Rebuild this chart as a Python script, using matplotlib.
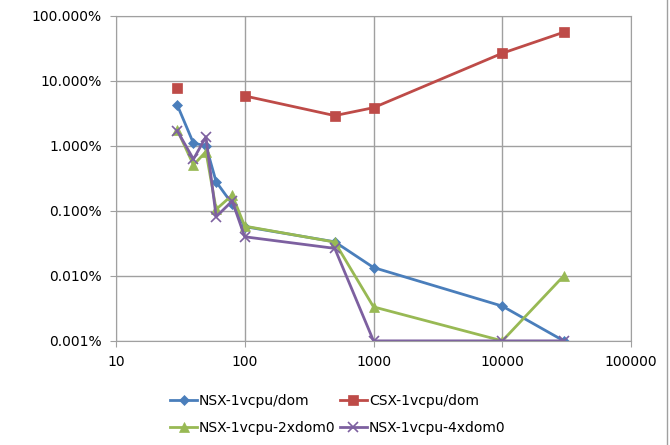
import numpy as np
import matplotlib.pyplot as plt
from matplotlib.ticker import FixedLocator, FuncFormatter, NullLocator
from matplotlib.lines import Line2D

# message counts (x) and loss rate in percent (y)
x = [30, 40, 50, 60, 80, 100, 500, 1000, 10000, 30000]

nsx_1vcpu = [4.18, 1.09, 1.0, 0.279, 0.127, 0.057, 0.0333, 0.0134, 0.00342, 0.001]
csx_1vcpu = [7.64, np.nan, np.nan, np.nan, np.nan, 5.82, 2.9, 3.84, 26.4, 55.5]
nsx_2xdom0 = [1.74, 0.505, 0.81, 0.105, 0.174, 0.058, 0.033, 0.00333, 0.001, 0.01]
nsx_4xdom0 = [1.68, 0.62, 1.37, 0.081, 0.141, 0.0398, 0.0264, 0.001, 0.001, 0.001]

labels = ["NSX-1vcpu/dom", "CSX-1vcpu/dom", "NSX-1vcpu-2xdom0", "NSX-1vcpu-4xdom0"]
colors = ["#4A7EBB", "#BE4B48", "#98B954", "#7D60A0"]
markers = ["D", "s", "^", "x"]
msizes = [5, 7, 7, 7]

fig = plt.figure(figsize=(6.7, 4.45), dpi=100)
ax = fig.add_axes([0.173, 0.234, 0.769, 0.731])

lines = []
for ys, lab, c, m, ms in zip([nsx_1vcpu, csx_1vcpu, nsx_2xdom0, nsx_4xdom0],
                             labels, colors, markers, msizes):
    ln, = ax.plot(x, ys, color=c, marker=m, markersize=ms, linewidth=2.0,
                  markeredgewidth=1.2 if m == "x" else 0.5, label=lab)
    lines.append(ln)

ax.set_xscale("log")
ax.set_yscale("log")
ax.set_xlim(10, 100000)
ax.set_ylim(0.001, 100)

ax.xaxis.set_major_locator(FixedLocator([10, 100, 1000, 10000, 100000]))
ax.xaxis.set_minor_locator(NullLocator())
ax.yaxis.set_major_locator(FixedLocator([0.001, 0.01, 0.1, 1, 10, 100]))
ax.yaxis.set_minor_locator(NullLocator())
ax.xaxis.set_major_formatter(FuncFormatter(lambda v, p: "%d" % round(v)))
ax.yaxis.set_major_formatter(FuncFormatter(lambda v, p: "%.3f%%" % v))

ax.grid(True, color="#a0a0a0", linewidth=1)
ax.set_axisbelow(True)
for s in ax.spines.values():
    s.set_color("#a0a0a0")
ax.tick_params(length=4, color="#a0a0a0", labelsize=10, pad=6)

# legend filled row by row like the original
order = [0, 2, 1, 3]
ax.legend([lines[i] for i in order], [labels[i] for i in order],
          loc="upper left", bbox_to_anchor=(0.08, -0.125), ncol=2, frameon=False,
          fontsize=10, handlelength=2, handletextpad=0.1, columnspacing=0.3,
          labelspacing=0.9)

# chart area border on the right
fig.add_artist(Line2D([0.995, 0.995], [0.0, 1.0], color="#a0a0a0", linewidth=1))

fig.savefig("out.png", dpi=100)
